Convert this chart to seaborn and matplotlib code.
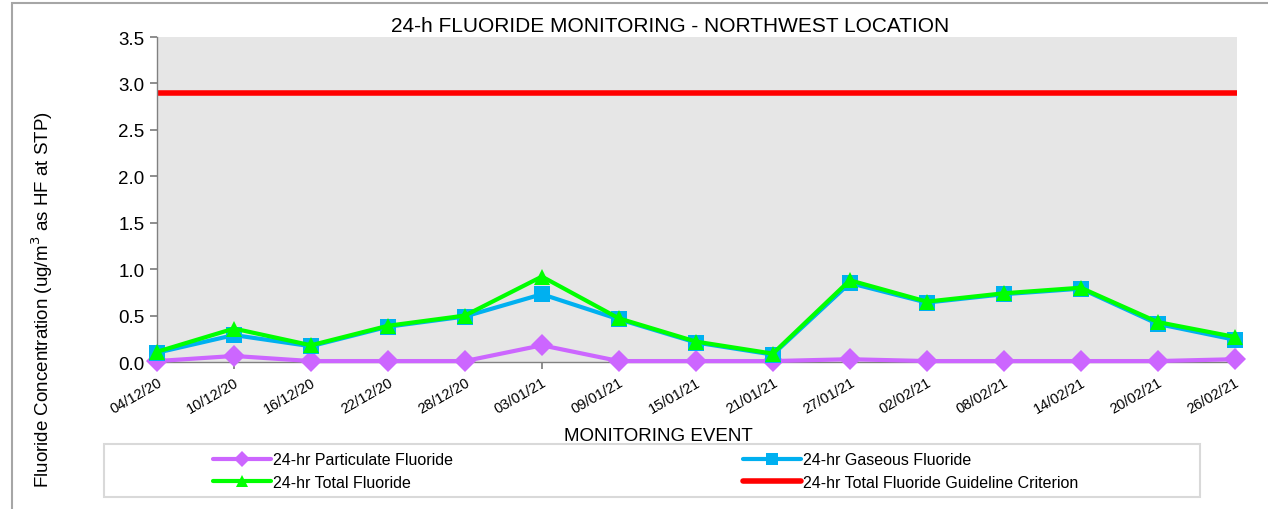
import numpy as np
import pandas as pd
import matplotlib
matplotlib.use("Agg")
import matplotlib.pyplot as plt
import seaborn as sns
from matplotlib.lines import Line2D
from matplotlib.patches import Rectangle

# ---------------- Data ----------------
dates = ["04/12/20", "10/12/20", "16/12/20", "22/12/20", "28/12/20", "03/01/21", "09/01/21",
         "15/01/21", "21/01/21", "27/01/21", "02/02/21", "08/02/21", "14/02/21", "20/02/21", "26/02/21"]
particulate = [0.01, 0.065, 0.01, 0.01, 0.01, 0.18, 0.01, 0.01, 0.01, 0.03, 0.01, 0.01, 0.01, 0.01, 0.03]
gaseous = [0.10, 0.29, 0.17, 0.38, 0.49, 0.73, 0.46, 0.21, 0.08, 0.85, 0.64, 0.73, 0.79, 0.41, 0.24]
total = [0.11, 0.36, 0.18, 0.39, 0.50, 0.92, 0.47, 0.22, 0.09, 0.88, 0.65, 0.74, 0.80, 0.43, 0.27]
guideline = 2.9

df = pd.DataFrame({"date": dates, "pos": np.arange(len(dates)),
                   "particulate": particulate, "gaseous": gaseous, "total": total})

sns.set_theme(style="white")
plt.rcParams["font.family"] = ["Liberation Sans", "DejaVu Sans"]
plt.rcParams["text.color"] = "#000000"
plt.rcParams["xtick.color"] = "#000000"
plt.rcParams["ytick.color"] = "#000000"

W, H = 1268, 510
fig = plt.figure(figsize=(W / 100, H / 100), dpi=100)
ax = fig.add_axes([157 / W, 1 - 363 / H, 1080 / W, 325 / H])
ax.set_facecolor("#e6e6e6")

c_part = "#cc66ff"
c_gas = "#00b0f0"
c_tot = "#00ff00"
c_red = "#ff0000"

# ---------------- Lines ----------------
ax.axhline(guideline, color=c_red, lw=4, zorder=2)
sns.lineplot(data=df, x="pos", y="particulate", sort=False, color=c_part, lw=3,
             marker="D", markersize=11, markeredgewidth=0, ax=ax, clip_on=False, zorder=3)
sns.lineplot(data=df, x="pos", y="gaseous", sort=False, color=c_gas, lw=3,
             marker="s", markersize=11, markeredgewidth=0, ax=ax, clip_on=False, zorder=4)
sns.lineplot(data=df, x="pos", y="total", sort=False, color=c_tot, lw=3,
             marker="^", markersize=11, markeredgewidth=0, ax=ax, clip_on=False, zorder=5)

ax.set_xlim(0, len(dates) - 1 + 0.03)
ax.set_ylim(0, 3.5)
yt = np.arange(0, 3.51, 0.5)
ax.set_yticks(yt)
ax.set_yticklabels([f"{v:.1f}" for v in yt], fontsize=13.5)
ax.set_xticks(df["pos"])
ax.set_xticklabels(dates, rotation=30, ha="right", rotation_mode="anchor", fontsize=10.5)
ax.tick_params(axis="y", direction="out", length=5, color="#808080", pad=4, left=True)
ax.tick_params(axis="x", direction="out", length=5, color="#808080", pad=4, bottom=True)

for s in ["top", "right"]:
    ax.spines[s].set_visible(False)
for s in ["left", "bottom"]:
    ax.spines[s].set_color("#808080")
    ax.spines[s].set_linewidth(1)

ax.set_xlabel("")
ax.set_ylabel("")
fig.text(658 / W, 1 - 437 / H, "MONITORING EVENT", ha="center", va="center", fontsize=13.5)
fig.text(42 / W, 1 - 300 / H, "Fluoride Concentration (ug/m$^3$ as HF at STP)",
         rotation=90, ha="center", va="center", fontsize=13.5)
fig.text(670 / W, 1 - 26 / H, "24-h FLUORIDE MONITORING - NORTHWEST LOCATION",
         ha="center", va="center", fontsize=15)

# ---------------- Legend ----------------
h_part = Line2D([], [], color=c_part, lw=3, marker="D", markersize=8, markeredgewidth=0)
h_tot = Line2D([], [], color=c_tot, lw=3, marker="^", markersize=8, markeredgewidth=0)
h_gas = Line2D([], [], color=c_gas, lw=3, marker="s", markersize=8, markeredgewidth=0)
h_red = Line2D([], [], color=c_red, lw=4)

leg_kw = dict(loc="center left", fontsize=11.5, frameon=False, handlelength=3.6,
              handletextpad=0.15, borderpad=0, borderaxespad=0, labelspacing=0.45)
leg1 = fig.legend([h_part, h_tot], ["24-hr Particulate Fluoride", "24-hr Total Fluoride"],
                  bbox_to_anchor=(213 / W, 1 - 472 / H), **leg_kw)
leg2 = fig.legend([h_gas, h_red], ["24-hr Gaseous Fluoride", "24-hr Total Fluoride Guideline Criterion"],
                  bbox_to_anchor=(743 / W, 1 - 472 / H), **leg_kw)

fig.patches.append(Rectangle((104 / W, 1 - 498 / H), 1096 / W, 53 / H,
                             transform=fig.transFigure, fill=False,
                             edgecolor="#d9d9d9", lw=1.5))
fig.patches.append(Rectangle((12 / W, -0.01), 1.1, 1 - 4 / H + 0.01,
                             transform=fig.transFigure, fill=False,
                             edgecolor="#a6a6a6", lw=1.5))

fig.savefig("out.png", dpi=100)
